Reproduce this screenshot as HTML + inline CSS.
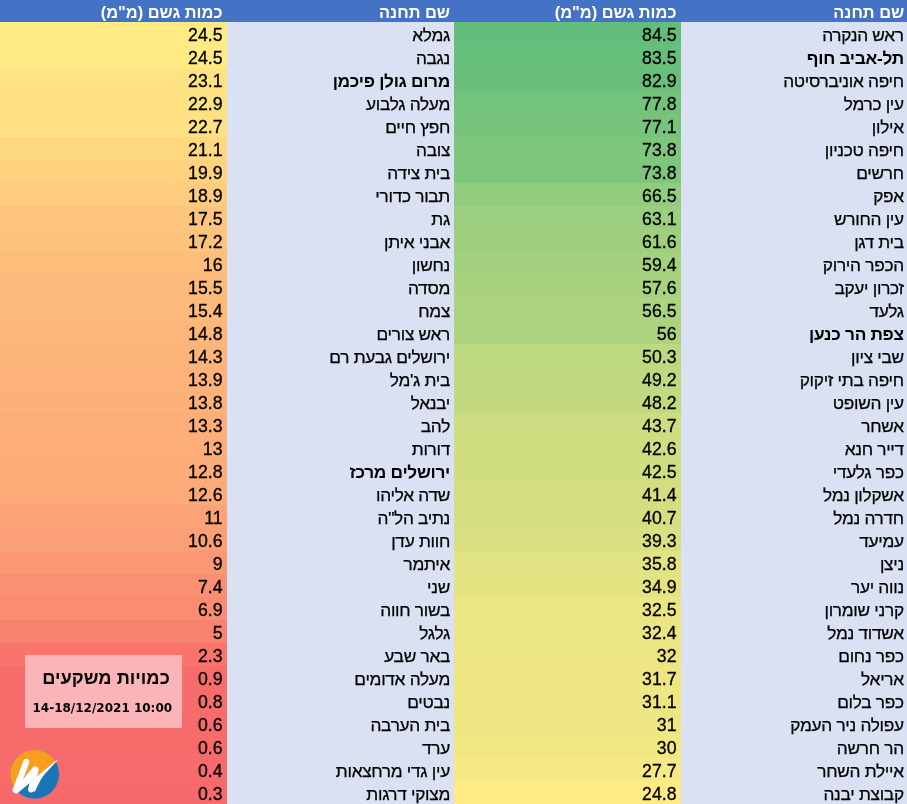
<!DOCTYPE html>
<html lang="he"><head><meta charset="utf-8"><title>כמויות משקעים</title>
<style>
html,body{margin:0;padding:0}
body{width:907px;height:804px;overflow:hidden;position:relative;background:#d9e1f2;font-family:"Liberation Sans","DejaVu Sans",sans-serif;font-size:16.7px;color:#000}
.h,.r{display:flex;width:907px}
.h{height:21.5px;background:#4472c4;color:#fff;font-weight:bold;line-height:24.7px;font-size:16.4px}
.r{height:23.015px;line-height:25.5px}
.h div,.r div{width:227px;box-sizing:border-box;white-space:nowrap;height:100%}
.h .w4,.r .w4{width:226px}
.n{direction:rtl;text-align:right;padding-right:4px;line-height:27.3px;font-size:17.3px;letter-spacing:-0.3px;-webkit-text-stroke:0.25px #000}
.v{text-align:right;padding-right:4.5px;line-height:27.3px;font-size:17.7px;-webkit-text-stroke:0.3px #000}
.hn{direction:rtl;text-align:right;padding-right:4px}
.hn.w4{padding-right:2.8px}
.hv{direction:rtl;text-align:right;padding-right:4.5px}
.n.w4{padding-right:3.2px}
.b{font-weight:bold;-webkit-text-stroke:0}
#box{position:absolute;left:25px;top:655px;width:157px;height:73px;background:#fbb4b8;text-align:center}
#box .t{direction:rtl;font-weight:bold;font-size:18.3px;line-height:20px;margin-top:13.1px;padding-left:5px}
#box .d{font-family:"DejaVu Sans","Liberation Sans",sans-serif;font-weight:bold;font-size:12px;line-height:14px;margin-top:12.5px;padding-right:2.4px}
#logo{position:absolute;left:8px;top:748px}
</style></head><body>
<div class="h"><div class="hv">כמות גשם (מ"מ)</div><div class="hn">שם תחנה</div><div class="hv">כמות גשם (מ"מ)</div><div class="hn w4">שם תחנה</div></div>
<div class="r"><div class="v" style="background:#ffea84">24.5</div><div class="n">גמלא</div><div class="v" style="background:#63be7b">84.5</div><div class="n w4">ראש הנקרה</div></div>
<div class="r"><div class="v" style="background:#ffea84">24.5</div><div class="n">נגבה</div><div class="v" style="background:#66bf7b">83.5</div><div class="n w4 b">תל-אביב חוף</div></div>
<div class="r"><div class="v" style="background:#ffe382">23.1</div><div class="n b">מרום גולן פיכמן</div><div class="v" style="background:#67bf7b">82.9</div><div class="n w4">חיפה אוניברסיטה</div></div>
<div class="r"><div class="v" style="background:#fee282">22.9</div><div class="n">מעלה גלבוע</div><div class="v" style="background:#74c37c">77.8</div><div class="n w4">עין כרמל</div></div>
<div class="r"><div class="v" style="background:#fee182">22.7</div><div class="n">חפץ חיים</div><div class="v" style="background:#76c47c">77.1</div><div class="n w4">אילון</div></div>
<div class="r"><div class="v" style="background:#fed880">21.1</div><div class="n">צובה</div><div class="v" style="background:#7fc67d">73.8</div><div class="n w4">חיפה טכניון</div></div>
<div class="r"><div class="v" style="background:#fed27f">19.9</div><div class="n">בית צידה</div><div class="v" style="background:#7fc67d">73.8</div><div class="n w4">חרשים</div></div>
<div class="r"><div class="v" style="background:#fdcc7e">18.9</div><div class="n">תבור כדורי</div><div class="v" style="background:#92cc7e">66.5</div><div class="n w4">אפק</div></div>
<div class="r"><div class="v" style="background:#fdc57d">17.5</div><div class="n">גת</div><div class="v" style="background:#9bce7e">63.1</div><div class="n w4">עין החורש</div></div>
<div class="r"><div class="v" style="background:#fdc37c">17.2</div><div class="n">אבני איתן</div><div class="v" style="background:#9fcf7e">61.6</div><div class="n w4">בית דגן</div></div>
<div class="r"><div class="v" style="background:#fdbd7b">16</div><div class="n">נחשון</div><div class="v" style="background:#a4d17f">59.4</div><div class="n w4">הכפר הירוק</div></div>
<div class="r"><div class="v" style="background:#fcba7b">15.5</div><div class="n">מסדה</div><div class="v" style="background:#a9d27f">57.6</div><div class="n w4">זכרון יעקב</div></div>
<div class="r"><div class="v" style="background:#fcba7b">15.4</div><div class="n">צמח</div><div class="v" style="background:#acd37f">56.5</div><div class="n w4">גלעד</div></div>
<div class="r"><div class="v" style="background:#fcb67a">14.8</div><div class="n">ראש צורים</div><div class="v" style="background:#add37f">56</div><div class="n w4 b">צפת הר כנען</div></div>
<div class="r"><div class="v" style="background:#fcb479">14.3</div><div class="n">ירושלים גבעת רם</div><div class="v" style="background:#bcd880">50.3</div><div class="n w4">שבי ציון</div></div>
<div class="r"><div class="v" style="background:#fcb279">13.9</div><div class="n">בית ג&#x27;מל</div><div class="v" style="background:#bfd980">49.2</div><div class="n w4">חיפה בתי זיקוק</div></div>
<div class="r"><div class="v" style="background:#fcb179">13.8</div><div class="n">יבנאל</div><div class="v" style="background:#c2d980">48.2</div><div class="n w4">עין השופט</div></div>
<div class="r"><div class="v" style="background:#fcae78">13.3</div><div class="n">להב</div><div class="v" style="background:#cddd81">43.7</div><div class="n w4">אשחר</div></div>
<div class="r"><div class="v" style="background:#fcad78">13</div><div class="n">דורות</div><div class="v" style="background:#d0de81">42.6</div><div class="n w4">דייר חנא</div></div>
<div class="r"><div class="v" style="background:#fcac78">12.8</div><div class="n b">ירושלים מרכז</div><div class="v" style="background:#d0de81">42.5</div><div class="n w4">כפר גלעדי</div></div>
<div class="r"><div class="v" style="background:#fcab78">12.6</div><div class="n">שדה אליהו</div><div class="v" style="background:#d3de81">41.4</div><div class="n w4">אשקלון נמל</div></div>
<div class="r"><div class="v" style="background:#fba276">11</div><div class="n">נתיב הל&quot;ה</div><div class="v" style="background:#d5df82">40.7</div><div class="n w4">חדרה נמל</div></div>
<div class="r"><div class="v" style="background:#fba076">10.6</div><div class="n">חוות עדן</div><div class="v" style="background:#d9e082">39.3</div><div class="n w4">עמיעד</div></div>
<div class="r"><div class="v" style="background:#fb9774">9</div><div class="n">איתמר</div><div class="v" style="background:#e2e382">35.8</div><div class="n w4">ניצן</div></div>
<div class="r"><div class="v" style="background:#fa8f72">7.4</div><div class="n">שני</div><div class="v" style="background:#e4e382">34.9</div><div class="n w4">נווה יער</div></div>
<div class="r"><div class="v" style="background:#fa8c72">6.9</div><div class="n">בשור חווה</div><div class="v" style="background:#ebe583">32.5</div><div class="n w4">קרני שומרון</div></div>
<div class="r"><div class="v" style="background:#f98270">5</div><div class="n">גלגל</div><div class="v" style="background:#ebe583">32.4</div><div class="n w4">אשדוד נמל</div></div>
<div class="r"><div class="v" style="background:#f9746d">2.3</div><div class="n">באר שבע</div><div class="v" style="background:#ece583">32</div><div class="n w4">כפר נחום</div></div>
<div class="r"><div class="v" style="background:#f86c6c">0.9</div><div class="n">מעלה אדומים</div><div class="v" style="background:#ede683">31.7</div><div class="n w4">אריאל</div></div>
<div class="r"><div class="v" style="background:#f86c6c">0.8</div><div class="n">נבטים</div><div class="v" style="background:#eee683">31.1</div><div class="n w4">כפר בלום</div></div>
<div class="r"><div class="v" style="background:#f86b6b">0.6</div><div class="n">בית הערבה</div><div class="v" style="background:#eee683">31</div><div class="n w4">עפולה ניר העמק</div></div>
<div class="r"><div class="v" style="background:#f86b6b">0.6</div><div class="n">ערד</div><div class="v" style="background:#f1e783">30</div><div class="n w4">הר חרשה</div></div>
<div class="r"><div class="v" style="background:#f86a6b">0.4</div><div class="n">עין גדי מרחצאות</div><div class="v" style="background:#f7e984">27.7</div><div class="n w4">איילת השחר</div></div>
<div class="r"><div class="v" style="background:#f8696b">0.3</div><div class="n">מצוקי דרגות</div><div class="v" style="background:#ffeb84">24.8</div><div class="n w4">קבוצת יבנה</div></div>
<div id="box"><div class="t">כמויות משקעים</div><div class="d">14-18/12/2021 10:00</div></div>
<svg id="logo" width="60" height="56" viewBox="0 0 60 56">
<defs><clipPath id="cc"><circle cx="26.6" cy="26.2" r="24.5"/></clipPath></defs>
<circle cx="26.6" cy="26.2" r="24.5" fill="#1b75bb"/>
<polygon points="-31,78.7 89.1,-21.2 -31,-21.2" fill="#f99d1c" clip-path="url(#cc)"/>
<g fill="#fbfcfe" stroke="none">
<polygon points="9.06,45.4 27,30.5 29.5,20 25.6,18.6 15,31.4 8,38.5 5,43"/>
<polygon points="49.1,12.1 24,32.9 22,41.6 26.6,43.2 29.6,37 32.4,31.4 35.6,26.9" stroke="#fbfcfe" stroke-width="0.9" stroke-linejoin="round"/>
</g>
<g stroke="#fbfcfe" stroke-width="6.2" stroke-linecap="round" fill="none">
<path d="M18.3 13.9 L7.7 42.2"/>
<path d="M27.5 21.5 L23.2 41.4"/>
</g>
</svg>
</body></html>
